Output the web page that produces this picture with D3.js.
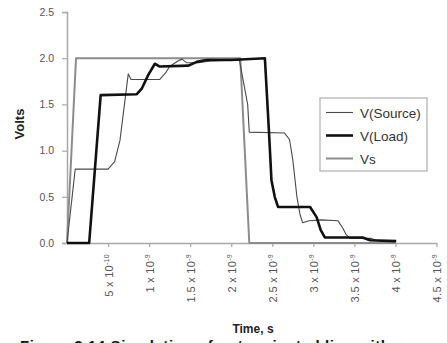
<!DOCTYPE html>
<html>
<head>
<meta charset="utf-8">
<script src="https://cdn.jsdelivr.net/npm/d3@7/dist/d3.min.js"></script>
<style>
  html, body { margin: 0; padding: 0; background: #fff; }
  svg { display: block; font-family: "Liberation Sans", Arial, sans-serif; }
</style>
</head>
<body>
<svg id="chart" width="447" height="343"></svg>
<script>
// ---- data (time in ns, voltage in V) ----
const vsTime   = [0, 0.11, 2.11, 2.22, 4.0];
const vsVolts  = [0, 2.0, 2.0, 0, 0];

const srcTime  = [0, 0.1, 0.5, 0.58, 0.645, 0.746, 0.78, 1.13, 1.2, 1.25, 1.35, 1.40, 1.46, 1.6, 1.75, 2.1, 2.2, 2.22, 2.65, 2.71, 2.75, 2.8, 2.84, 2.87, 2.95, 3.1, 3.3, 3.36, 3.4, 3.45, 3.7, 3.78, 4.0];
const srcVolts = [0, 0.8, 0.8, 0.88, 1.11, 1.83, 1.77, 1.77, 1.84, 1.91, 1.97, 1.99, 1.95, 1.95, 1.97, 1.98, 1.5, 1.2, 1.19, 1.12, 0.9, 0.5, 0.3, 0.22, 0.24, 0.25, 0.24, 0.16, 0.09, 0.05, 0.05, 0.025, 0.02];

const loadTime  = [0, 0.27, 0.41, 0.85, 0.91, 0.99, 1.07, 1.13, 1.48, 1.58, 1.70, 2.0, 2.41, 2.46, 2.49, 2.53, 2.57, 2.96, 3.04, 3.09, 3.14, 3.6, 3.69, 4.01];
const loadVolts = [0, 0, 1.6, 1.61, 1.67, 1.82, 1.94, 1.91, 1.92, 1.96, 1.98, 1.98, 2.0, 1.2, 0.68, 0.5, 0.39, 0.39, 0.28, 0.14, 0.06, 0.06, 0.03, 0.02];

const yTicks   = [0, 0.5, 1.0, 1.5, 2.0, 2.5];
const xTicks   = [0.5, 1.0, 1.5, 2.0, 2.5, 3.0, 3.5, 4.0, 4.5];
const xMant    = ["5", "1", "1.5", "2", "2.5", "3", "3.5", "4", "4.5"];
const xExp     = ["-10", "-9", "-9", "-9", "-9", "-9", "-9", "-9", "-9"];

const seriesNames = ["V(Source)", "V(Load)", "Vs"];

// ---- layout ----
const svg = d3.select("#chart");
const x = d3.scaleLinear().domain([0, 4.5]).range([67, 436.5]);
const y = d3.scaleLinear().domain([0, 2.5]).range([243, 12]);

const axisColor = "#a8a8a8";
const textColor = "#555";

// y axis
const gy = svg.append("g").attr("transform", "translate(67,0)")
  .call(d3.axisLeft(y).tickValues(yTicks).tickFormat(d3.format(".1f")).tickSize(5).tickPadding(8));
gy.select(".domain").attr("stroke", axisColor).attr("stroke-width", 1.5);
gy.selectAll(".tick line").attr("stroke", axisColor).attr("stroke-width", 1.2);
gy.selectAll(".tick text").attr("fill", textColor).attr("font-size", "10.5px")
  .attr("font-family", "Liberation Sans, Arial, sans-serif");

// x axis
const gx = svg.append("g").attr("transform", "translate(0,243)")
  .call(d3.axisBottom(x).tickValues(xTicks).tickSize(4).tickSizeOuter(0).tickFormat(""));
gx.select(".domain").attr("stroke", axisColor).attr("stroke-width", 1.5);
gx.selectAll(".tick line").attr("stroke", axisColor).attr("stroke-width", 1.2);
gx.selectAll(".tick").each(function(d, i) {
  const t = d3.select(this).append("text")
    .attr("transform", "translate(4,11) rotate(-90)")
    .attr("text-anchor", "end")
    .attr("fill", textColor)
    .attr("font-size", "11px")
    .attr("letter-spacing", "0.3px")
    .attr("font-family", "Liberation Sans, Arial, sans-serif");
  t.append("tspan").text(xMant[i] + " x 10");
  t.append("tspan").attr("font-size", "7px").attr("dy", "-4").text(xExp[i]);
});

// lines
const line = d3.line().x(d => x(d[0])).y(d => y(d[1]));
const zip = (a, b) => a.map((v, i) => [v, b[i]]);

svg.append("path").datum(zip(vsTime, vsVolts)).attr("d", line)
  .attr("fill", "none").attr("stroke", "#8c8c8c").attr("stroke-width", 2).attr("stroke-linejoin", "round");
svg.append("path").datum(zip(srcTime, srcVolts)).attr("d", line)
  .attr("fill", "none").attr("stroke", "#4a4a4a").attr("stroke-width", 1.1).attr("stroke-linejoin", "round");
svg.append("path").datum(zip(loadTime, loadVolts)).attr("d", line)
  .attr("fill", "none").attr("stroke", "#111").attr("stroke-width", 2.6).attr("stroke-linejoin", "round");

// axis titles
svg.append("text").attr("transform", "translate(24,124) rotate(-90)")
  .attr("text-anchor", "middle").attr("font-weight", "bold").attr("font-size", "13px")
  .attr("fill", "#222").text("Volts");
svg.append("text").attr("x", 253).attr("y", 333)
  .attr("text-anchor", "middle").attr("font-weight", "bold").attr("font-size", "12px")
  .attr("fill", "#222").text("Time, s");

// legend
const lg = svg.append("g");
lg.append("rect").attr("x", 320).attr("y", 98).attr("width", 107).attr("height", 73)
  .attr("fill", "#fff").attr("stroke", "#b0b0b0").attr("stroke-width", 1.2);
const legStyles = [
  {stroke: "#4a4a4a", w: 1.1},
  {stroke: "#111", w: 2.6},
  {stroke: "#8c8c8c", w: 2}
];
seriesNames.forEach((name, i) => {
  const yy = 112.5 + i * 23;
  lg.append("line").attr("x1", 326).attr("x2", 353).attr("y1", yy).attr("y2", yy)
    .attr("stroke", legStyles[i].stroke).attr("stroke-width", legStyles[i].w);
  lg.append("text").attr("x", 360).attr("y", yy + 5)
    .attr("font-size", "13.5px").attr("fill", "#333").text(name);
});

// caption (cut off at the bottom, as in the reference)
svg.append("text").attr("x", 20).attr("y", 351)
  .attr("font-weight", "bold").attr("font-size", "15px").attr("fill", "#111")
  .attr("letter-spacing", "0.6px")
  .text("Figure 3.14  Simulation of unterminated line with source and load");
</script>
</body>
</html>
